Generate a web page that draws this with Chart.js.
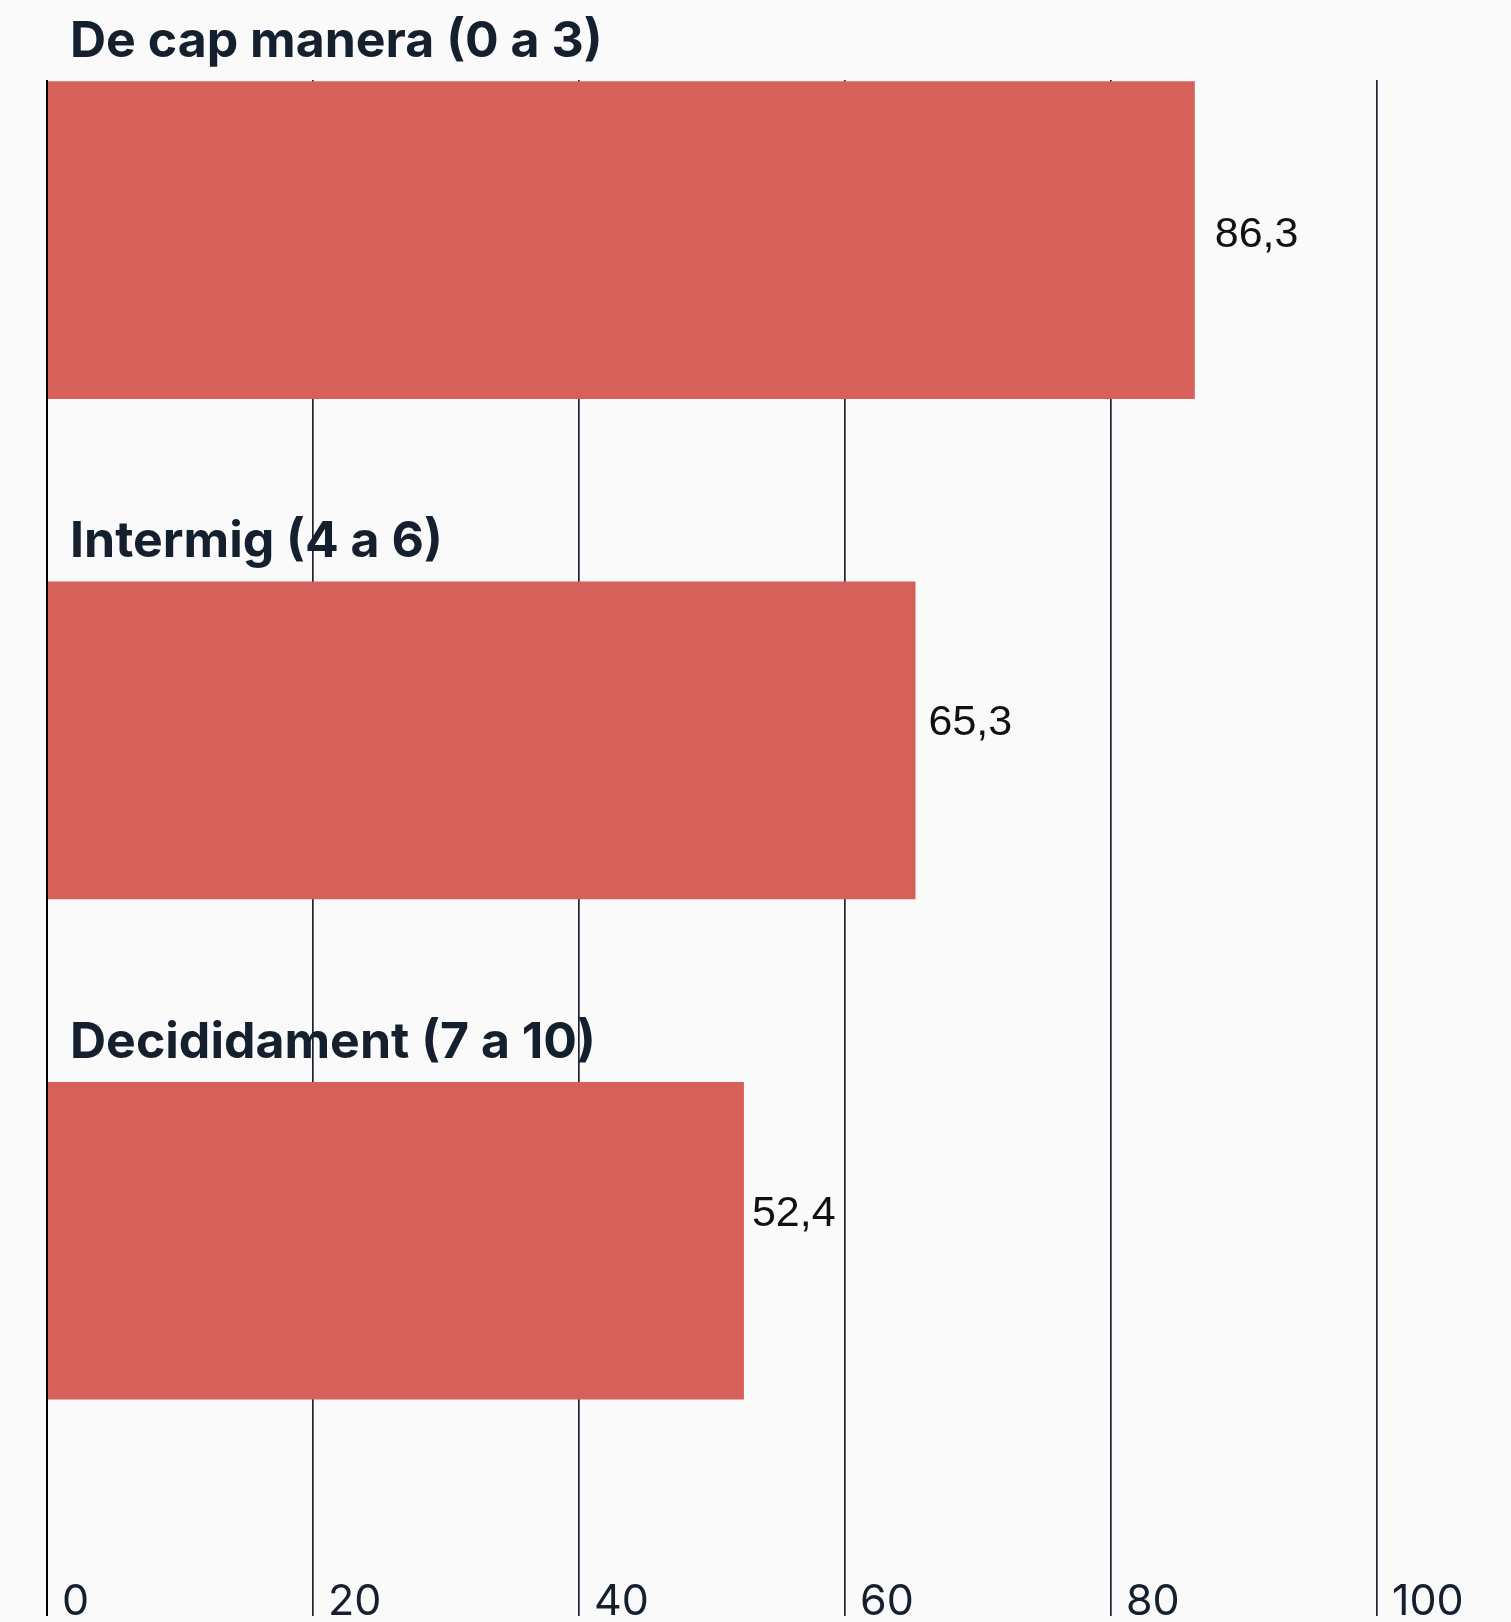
<!DOCTYPE html>
<html lang="ca">
<head>
<meta charset="utf-8">
<title>De cap manera / Intermig / Decididament</title>
<script src="https://cdn.jsdelivr.net/npm/chart.js@4.4.1/dist/chart.umd.min.js"></script>
<style>
  html, body { margin: 0; padding: 0; background: #fafafa; }
  #wrap { position: relative; width: 1511px; height: 1622px; }
</style>
</head>
<body>
<div id="wrap"><canvas id="grafic"></canvas></div>
<script>
// dades
const categories = ['De cap manera (0 a 3)', 'Intermig (4 a 6)', 'Decididament (7 a 10)'];
const valors = [86.3, 65.3, 52.4];
const xTicks = [0, 20, 40, 60, 80, 100];

const colorBarra = '#d6615a';
const colorText = '#15202f';
// ajust manual de cada etiqueta respecte del final de la barra [dx, dy]
const ajustEtiqueta = [[20, -5], [13, -17], [8, -27]];

// etiqueta amb el valor a la dreta de cada barra
const etiquetesValor = {
    id: 'etiquetesValor',
    afterDraw(chart) {
        const ctx = chart.ctx;
        const meta = chart.getDatasetMeta(0);
        ctx.save();
        ctx.font = '43px "Liberation Sans", Arial, sans-serif';
        ctx.fillStyle = '#111111';
        ctx.textAlign = 'left';
        ctx.textBaseline = 'middle';
        meta.data.forEach((bar, i) => {
            const text = valors[i].toFixed(1).replace('.', ',');
            const [dx, dy] = ajustEtiqueta[i];
            ctx.fillText(text, bar.x + dx, bar.y + dy);
        });
        ctx.restore();
    }
};

const ctx = document.getElementById('grafic').getContext('2d');

new Chart(ctx, {
    type: 'bar',
    data: {
        datasets: [{
            data: valors.map((v, i) => ({ x: v, y: i })),
            backgroundColor: colorBarra,
            borderWidth: 0,
            categoryPercentage: 1,
            barPercentage: 0.635
        }]
    },
    options: {
        indexAxis: 'y',
        responsive: true,
        maintainAspectRatio: false,
        animation: false,
        layout: {
            padding: { left: 47, right: 134, top: 80, bottom: 0 }
        },
        plugins: {
            legend: { display: false },
            tooltip: { enabled: false }
        },
        scales: {
            x: {
                type: 'linear',
                position: 'bottom',
                min: 0,
                max: 100,
                z: 1,
                afterBuildTicks: (scale) => {
                    scale.ticks = xTicks.map(v => ({ value: v }));
                },
                // les línies arriben fins a baix i les xifres queden a dins
                afterFit: (scale) => { scale.height = 6; },
                border: { display: false },
                grid: {
                    color: (c) => c.tick && c.tick.value === 0 ? '#000000' : '#1c2333',
                    lineWidth: (c) => c.tick && c.tick.value === 0 ? 2 : 1.7,
                    drawTicks: false
                },
                ticks: {
                    mirror: true,
                    align: 'start',
                    labelOffset: 15,
                    padding: -7.5,
                    color: colorText,
                    font: { family: 'Inter', size: 43, lineHeight: 1 },
                    maxRotation: 0
                }
            },
            y: {
                type: 'linear',
                position: 'left',
                reverse: true,
                offset: false,
                min: -0.32,
                max: 2.75,
                z: 2,
                // els títols van dins l'àrea, sense ocupar marge
                afterFit: (scale) => {
                    scale.width = 0;
                    scale.paddingTop = 0;
                    scale.paddingBottom = 0;
                },
                border: { display: false },
                grid: { display: false, drawTicks: false, offset: false },
                ticks: {
                    stepSize: 1,
                    includeBounds: false,
                    mirror: true,
                    padding: 23,
                    labelOffset: -198,
                    color: colorText,
                    font: { family: 'Inter', size: 50, weight: '700' },
                    callback: (value) => categories[value] ?? ''
                }
            }
        }
    },
    plugins: [etiquetesValor]
});
</script>
</body>
</html>
